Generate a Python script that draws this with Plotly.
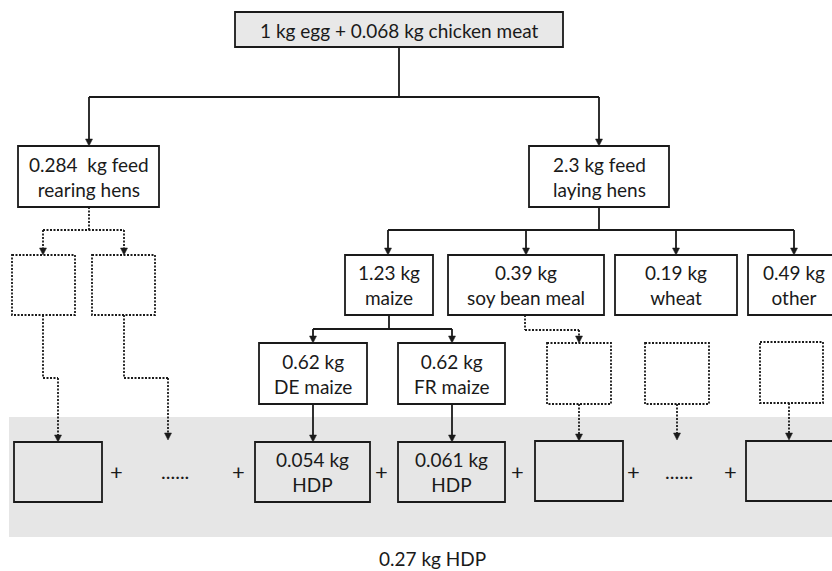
import plotly.graph_objects as go

# ---- data ----
product_label = "1 kg egg + 0.068 kg chicken meat"
hen_groups = ["rearing hens", "laying hens"]
hen_feed_kg = ["0.284 ", "2.3"]
ingredients = ["maize", "soy bean meal", "wheat", "other"]
ingredient_kg = ["1.23", "0.39", "0.19", "0.49"]
maize_origins = ["DE maize", "FR maize"]
maize_kg = ["0.62", "0.62"]
hdp_kg = ["0.054", "0.061"]
total_hdp = "0.27"

# ---- layout geometry (pixels) ----
W, H = 832, 571
FONT = "Lato"
FS = 19
BLACK = "#1a1a1a"
GRAY = "#e6e6e6"

fig = go.Figure()
shapes = []
annots = []


def box(x0, y0, x1, y1, fill="rgba(0,0,0,0)", dotted=False, lw=1.8):
    shapes.append(dict(type="rect", x0=x0, y0=y0, x1=x1, y1=y1, xref="x", yref="y",
                       line=dict(color=BLACK, width=lw, dash="2px,1.5px" if dotted else "solid"),
                       fillcolor=fill, layer="above"))


def line(x0, y0, x1, y1, dotted=False, lw=1.8):
    shapes.append(dict(type="line", x0=x0, y0=y0, x1=x1, y1=y1, xref="x", yref="y",
                       line=dict(color=BLACK, width=lw, dash="2px,1.5px" if dotted else "solid"),
                       layer="above"))


def arrowhead(x, y, size=7, half=3.5):
    shapes.append(dict(type="path", xref="x", yref="y",
                       path=f"M {x-half},{y-size} L {x+half},{y-size} L {x},{y} Z",
                       fillcolor=BLACK, line=dict(color=BLACK, width=0.5), layer="above"))


def arrow(x, y0, y1, dotted=False):
    line(x, y0, x, y1 - 5, dotted=dotted)
    arrowhead(x, y1)


def text(x, y, t, size=FS):
    annots.append(dict(x=x, y=y, xref="x", yref="y", text=t, showarrow=False,
                       font=dict(family=FONT, size=size, color=BLACK),
                       xanchor="center", yanchor="middle"))


# gray band (background)
shapes.append(dict(type="rect", x0=9, y0=417, x1=845, y1=537, xref="x", yref="y",
                   line=dict(width=0), fillcolor=GRAY, layer="below"))

# top product box
box(235, 12, 563, 47, fill="#e8e8e8")
text(399, 30, product_label)
line(399, 47, 399, 97)
line(89, 97, 599, 97)
arrow(89, 97, 146)
arrow(599, 97, 146)

# hen feed boxes
hen_boxes = [(18, 146, 159, 207), (529, 146, 669, 207)]
for (x0, y0, x1, y1), kg, g in zip(hen_boxes, hen_feed_kg, hen_groups):
    box(x0, y0, x1, y1)
    text((x0 + x1) / 2, (y0 + y1) / 2, f"{kg} kg feed<br>{g}")

# laying hens -> ingredients
line(599, 207, 599, 230)
line(388, 230, 794, 230)
ing_boxes = [(345, 255, 433, 315), (448, 255, 604, 315), (615, 255, 737, 315), (748, 255, 840, 315)]
ing_arrow_x = [388, 526, 676, 794]
for ax in ing_arrow_x:
    arrow(ax, 230, 255)
for (x0, y0, x1, y1), kg, name in zip(ing_boxes, ingredient_kg, ingredients):
    box(x0, y0, x1, y1)
    cx = (x0 + x1) / 2 if x1 < 832 else 794
    text(cx, (y0 + y1) / 2, f"{kg} kg<br>{name}")

# maize -> origins
line(389, 315, 389, 329)
line(313, 329, 452, 329)
arrow(313, 329, 343)
arrow(452, 329, 343)
origin_boxes = [(259, 343, 367, 404), (398, 343, 505, 404)]
for (x0, y0, x1, y1), kg, name in zip(origin_boxes, maize_kg, maize_origins):
    box(x0, y0, x1, y1)
    text((x0 + x1) / 2, (y0 + y1) / 2, f"{kg} kg<br>{name}")
arrow(313, 404, 442)
arrow(452, 404, 442)

# rearing hens dotted branch
line(89, 207, 89, 230, dotted=True)
line(43, 230, 124, 230, dotted=True)
arrow(43, 230, 255, dotted=True)
arrow(124, 230, 255, dotted=True)
box(12, 255, 75, 315, dotted=True)
box(92, 255, 155, 315, dotted=True)
line(43, 315, 43, 378, dotted=True)
line(43, 378, 58, 378, dotted=True)
arrow(58, 378, 442, dotted=True)
line(124, 315, 124, 378, dotted=True)
line(124, 378, 168, 378, dotted=True)
arrow(168, 378, 440, dotted=True)

# soy / wheat / other dotted
line(525, 315, 525, 330, dotted=True)
line(525, 330, 579, 330, dotted=True)
arrow(579, 330, 343, dotted=True)
box(547, 343, 611, 404, dotted=True)
box(645, 343, 709, 404, dotted=True)
box(760, 342, 823, 403, dotted=True)
arrow(579, 404, 441, dotted=True)
arrow(677, 404, 440, dotted=True)
arrow(789, 403, 440, dotted=True)

# bottom HDP row
bottom_boxes = [(14, 442, 102, 502), (255, 442, 370, 502), (398, 442, 505, 502),
                (535, 441, 623, 501), (746, 441, 840, 501)]
for b in bottom_boxes:
    box(*b)
text(312.5, 472, f"{hdp_kg[0]} kg<br>HDP")
text(451.5, 472, f"{hdp_kg[1]} kg<br>HDP")
for px in [116, 238, 381, 517, 633, 730]:
    text(px, 471, "+", size=22)
for dx in [175, 679]:
    text(dx, 471, "......", size=20)

text(432, 558, f"{total_hdp} kg HDP")

fig.update_layout(
    width=W, height=H, margin=dict(l=0, r=0, t=0, b=0),
    paper_bgcolor="white", plot_bgcolor="white",
    xaxis=dict(range=[0, W], visible=False, fixedrange=True),
    yaxis=dict(range=[H, 0], visible=False, fixedrange=True),
    shapes=shapes, annotations=annots, showlegend=False,
)
fig.write_html("out.html", config={"displayModeBar": False},
               post_script="document.body.style.margin='0px';document.body.style.overflow='hidden';")
